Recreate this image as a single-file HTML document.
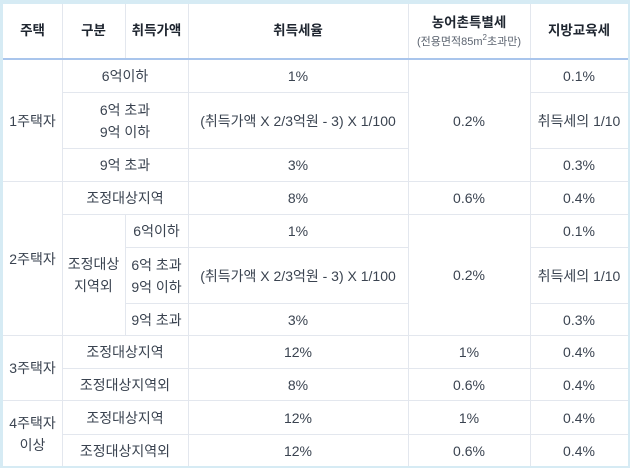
<!DOCTYPE html>
<html>
<head>
<meta charset="utf-8">
<style>
html,body{margin:0;padding:0;}
body{width:630px;height:468px;background:#d6ebf4;position:relative;overflow:hidden;
font-family:"Liberation Sans","Noto Sans CJK KR",sans-serif;}
#t{position:absolute;left:3px;top:4px;width:625px;height:462px;background:#fff;}
.c{position:absolute;display:flex;align-items:center;justify-content:center;text-align:center;
font-size:14px;color:#3a4350;line-height:22px;white-space:nowrap;}
.h{font-weight:bold;color:#1f2630;font-size:13.5px;}
.s{font-size:11px;color:#5c6470;font-weight:normal;line-height:16px;}
.v{position:absolute;width:1px;background:#e3e7ee;}
.l{position:absolute;height:1px;background:#e3e7ee;}
</style>
</head>
<body>
<div id="t"></div>

<!-- vertical lines -->
<div class="v" style="left:62px;top:4px;height:462px"></div>
<div class="v" style="left:125px;top:4px;height:55px"></div>
<div class="v" style="left:125px;top:214px;height:121px"></div>
<div class="v" style="left:188px;top:4px;height:462px"></div>
<div class="v" style="left:408px;top:4px;height:462px"></div>
<div class="v" style="left:530px;top:4px;height:462px"></div>

<!-- horizontal lines -->
<div class="l" style="left:62px;top:92px;width:346px"></div>
<div class="l" style="left:530px;top:92px;width:98px"></div>
<div class="l" style="left:62px;top:148px;width:346px"></div>
<div class="l" style="left:530px;top:148px;width:98px"></div>
<div class="l" style="left:3px;top:181px;width:625px"></div>
<div class="l" style="left:62px;top:214px;width:566px"></div>
<div class="l" style="left:125px;top:247px;width:283px"></div>
<div class="l" style="left:530px;top:247px;width:98px"></div>
<div class="l" style="left:125px;top:303px;width:283px"></div>
<div class="l" style="left:530px;top:303px;width:98px"></div>
<div class="l" style="left:3px;top:335px;width:625px"></div>
<div class="l" style="left:62px;top:368px;width:566px"></div>
<div class="l" style="left:3px;top:400px;width:625px"></div>
<div class="l" style="left:62px;top:434px;width:566px"></div>
<div class="l" style="left:3px;top:58px;width:625px;height:2px;background:#a9c5ec"></div>

<!-- header -->
<div class="c h" style="left:3px;top:4px;width:59px;height:54px">주택</div>
<div class="c h" style="left:62px;top:4px;width:63px;height:54px">구분</div>
<div class="c h" style="left:125px;top:4px;width:63px;height:54px">취득가액</div>
<div class="c h" style="left:188px;top:4px;width:220px;height:54px">취득세율</div>
<div class="c h" style="left:408px;top:4px;width:122px;height:54px;flex-direction:column">
  <div style="line-height:22px">농어촌특별세</div>
  <div class="s">(전용면적85m<sup style="font-size:8px;vertical-align:5px;line-height:0">2</sup>초과만)</div>
</div>
<div class="c h" style="left:530px;top:4px;width:98px;height:54px">지방교육세</div>

<!-- 1주택자 -->
<div class="c" style="left:3px;top:60px;width:59px;height:121px">1주택자</div>
<div class="c" style="left:62px;top:60px;width:126px;height:32px">6억이하</div>
<div class="c" style="left:188px;top:60px;width:220px;height:32px">1%</div>
<div class="c" style="left:530px;top:60px;width:98px;height:32px">0.1%</div>
<div class="c" style="left:62px;top:93px;width:126px;height:55px">6억 초과<br>9억 이하</div>
<div class="c" style="left:188px;top:93px;width:220px;height:55px">(취득가액 X 2/3억원 - 3) X 1/100</div>
<div class="c" style="left:530px;top:93px;width:98px;height:55px">취득세의 1/10</div>
<div class="c" style="left:62px;top:149px;width:126px;height:32px">9억 초과</div>
<div class="c" style="left:188px;top:149px;width:220px;height:32px">3%</div>
<div class="c" style="left:530px;top:149px;width:98px;height:32px">0.3%</div>
<div class="c" style="left:408px;top:60px;width:122px;height:121px">0.2%</div>

<!-- 2주택자 -->
<div class="c" style="left:3px;top:182px;width:59px;height:153px">2주택자</div>
<div class="c" style="left:62px;top:182px;width:126px;height:32px">조정대상지역</div>
<div class="c" style="left:188px;top:182px;width:220px;height:32px">8%</div>
<div class="c" style="left:408px;top:182px;width:122px;height:32px">0.6%</div>
<div class="c" style="left:530px;top:182px;width:98px;height:32px">0.4%</div>
<div class="c" style="left:62px;top:215px;width:63px;height:120px">조정대상<br>지역외</div>
<div class="c" style="left:125px;top:215px;width:63px;height:32px">6억이하</div>
<div class="c" style="left:188px;top:215px;width:220px;height:32px">1%</div>
<div class="c" style="left:530px;top:215px;width:98px;height:32px">0.1%</div>
<div class="c" style="left:125px;top:248px;width:63px;height:55px">6억 초과<br>9억 이하</div>
<div class="c" style="left:188px;top:248px;width:220px;height:55px">(취득가액 X 2/3억원 - 3) X 1/100</div>
<div class="c" style="left:530px;top:248px;width:98px;height:55px">취득세의 1/10</div>
<div class="c" style="left:125px;top:304px;width:63px;height:31px">9억 초과</div>
<div class="c" style="left:188px;top:304px;width:220px;height:31px">3%</div>
<div class="c" style="left:530px;top:304px;width:98px;height:31px">0.3%</div>
<div class="c" style="left:408px;top:215px;width:122px;height:120px">0.2%</div>

<!-- 3주택자 -->
<div class="c" style="left:3px;top:336px;width:59px;height:64px">3주택자</div>
<div class="c" style="left:62px;top:336px;width:126px;height:32px">조정대상지역</div>
<div class="c" style="left:188px;top:336px;width:220px;height:32px">12%</div>
<div class="c" style="left:408px;top:336px;width:122px;height:32px">1%</div>
<div class="c" style="left:530px;top:336px;width:98px;height:32px">0.4%</div>
<div class="c" style="left:62px;top:369px;width:126px;height:31px">조정대상지역외</div>
<div class="c" style="left:188px;top:369px;width:220px;height:31px">8%</div>
<div class="c" style="left:408px;top:369px;width:122px;height:31px">0.6%</div>
<div class="c" style="left:530px;top:369px;width:98px;height:31px">0.4%</div>

<!-- 4주택자 이상 -->
<div class="c" style="left:3px;top:401px;width:59px;height:65px">4주택자<br>이상</div>
<div class="c" style="left:62px;top:401px;width:126px;height:33px">조정대상지역</div>
<div class="c" style="left:188px;top:401px;width:220px;height:33px">12%</div>
<div class="c" style="left:408px;top:401px;width:122px;height:33px">1%</div>
<div class="c" style="left:530px;top:401px;width:98px;height:33px">0.4%</div>
<div class="c" style="left:62px;top:435px;width:126px;height:31px">조정대상지역외</div>
<div class="c" style="left:188px;top:435px;width:220px;height:31px">12%</div>
<div class="c" style="left:408px;top:435px;width:122px;height:31px">0.6%</div>
<div class="c" style="left:530px;top:435px;width:98px;height:31px">0.4%</div>
</body>
</html>
